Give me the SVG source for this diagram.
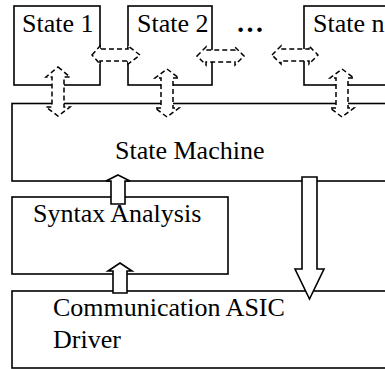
<svg xmlns="http://www.w3.org/2000/svg" width="385" height="369" viewBox="0 0 385 369">
<style>
.box{fill:none;stroke:#000;stroke-width:1.6}
.lbl{font-family:"Liberation Serif","Times New Roman",serif;font-size:26px;fill:#000}
.darr{fill:#fff;stroke:#000;stroke-width:1.5;stroke-dasharray:5,3}
.sarr{fill:#fff;stroke:#000;stroke-width:1.6;stroke-linejoin:miter}
</style>
<rect width="385" height="369" fill="#fff"/>
<g id="state1"><rect class="box" x="14" y="6" width="86" height="79"/><text class="lbl" x="22" y="32">State 1</text></g>
<g id="state2"><rect class="box" x="128" y="6" width="84" height="79"/><text class="lbl" x="137" y="32">State 2</text></g>
<g id="ellipsis"><text x="236" y="32" style="font-family:'Liberation Serif',serif;font-size:28px;font-weight:bold">…</text></g>
<g id="staten"><rect class="box" x="304" y="6" width="100" height="79"/><text class="lbl" x="313" y="32">State n</text></g>
<g id="statemachine"><rect class="box" x="12" y="103.5" width="392" height="77.5"/><text class="lbl" x="115" y="159">State Machine</text></g>
<g id="syntax"><rect class="box" x="12" y="197" width="216" height="77"/><text class="lbl" x="33" y="222">Syntax Analysis</text></g>
<g id="comm"><rect class="box" x="12" y="291" width="392" height="77"/><text class="lbl" x="53" y="316">Communication ASIC</text><text class="lbl" x="53" y="348">Driver</text></g>
<g id="connectors">
<path class="darr" d="M92,55 L100,46 L100,49 L128,49 L128,46 L140,55 L128,64 L128,61 L100,61 L100,64 Z"/>
<path class="darr" d="M197,56 L206,47 L206,50 L235,50 L235,47 L244,56 L235,65 L235,62 L206,62 L206,65 Z"/>
<path class="darr" d="M272,55 L281,46 L281,49 L309,49 L309,46 L318,55 L309,64 L309,61 L281,61 L281,64 Z"/>
<path class="darr" d="M58,67 L70,77 L64,77 L64,107 L70,107 L58,116 L46,107 L52,107 L52,77 L46,77 Z"/>
<path class="darr" d="M167,69 L179,78 L173,78 L173,108 L179,108 L167,117 L155,108 L161,108 L161,78 L155,78 Z"/>
<path class="darr" d="M342,69 L354,78 L348,78 L348,108 L354,108 L342,117 L330,108 L336,108 L336,78 L330,78 Z"/>
<path class="sarr" d="M118,175 L130,181 L125,181 L125,204 L111,204 L111,181 L106,181 Z"/>
<path class="sarr" d="M120,263 L132,271 L127,271 L127,293 L113,293 L113,271 L108,271 Z"/>
<path class="sarr" d="M302,177 L317,177 L317,269 L324,269 L309.5,299 L295,269 L302,269 Z"/>
</g>
</svg>
